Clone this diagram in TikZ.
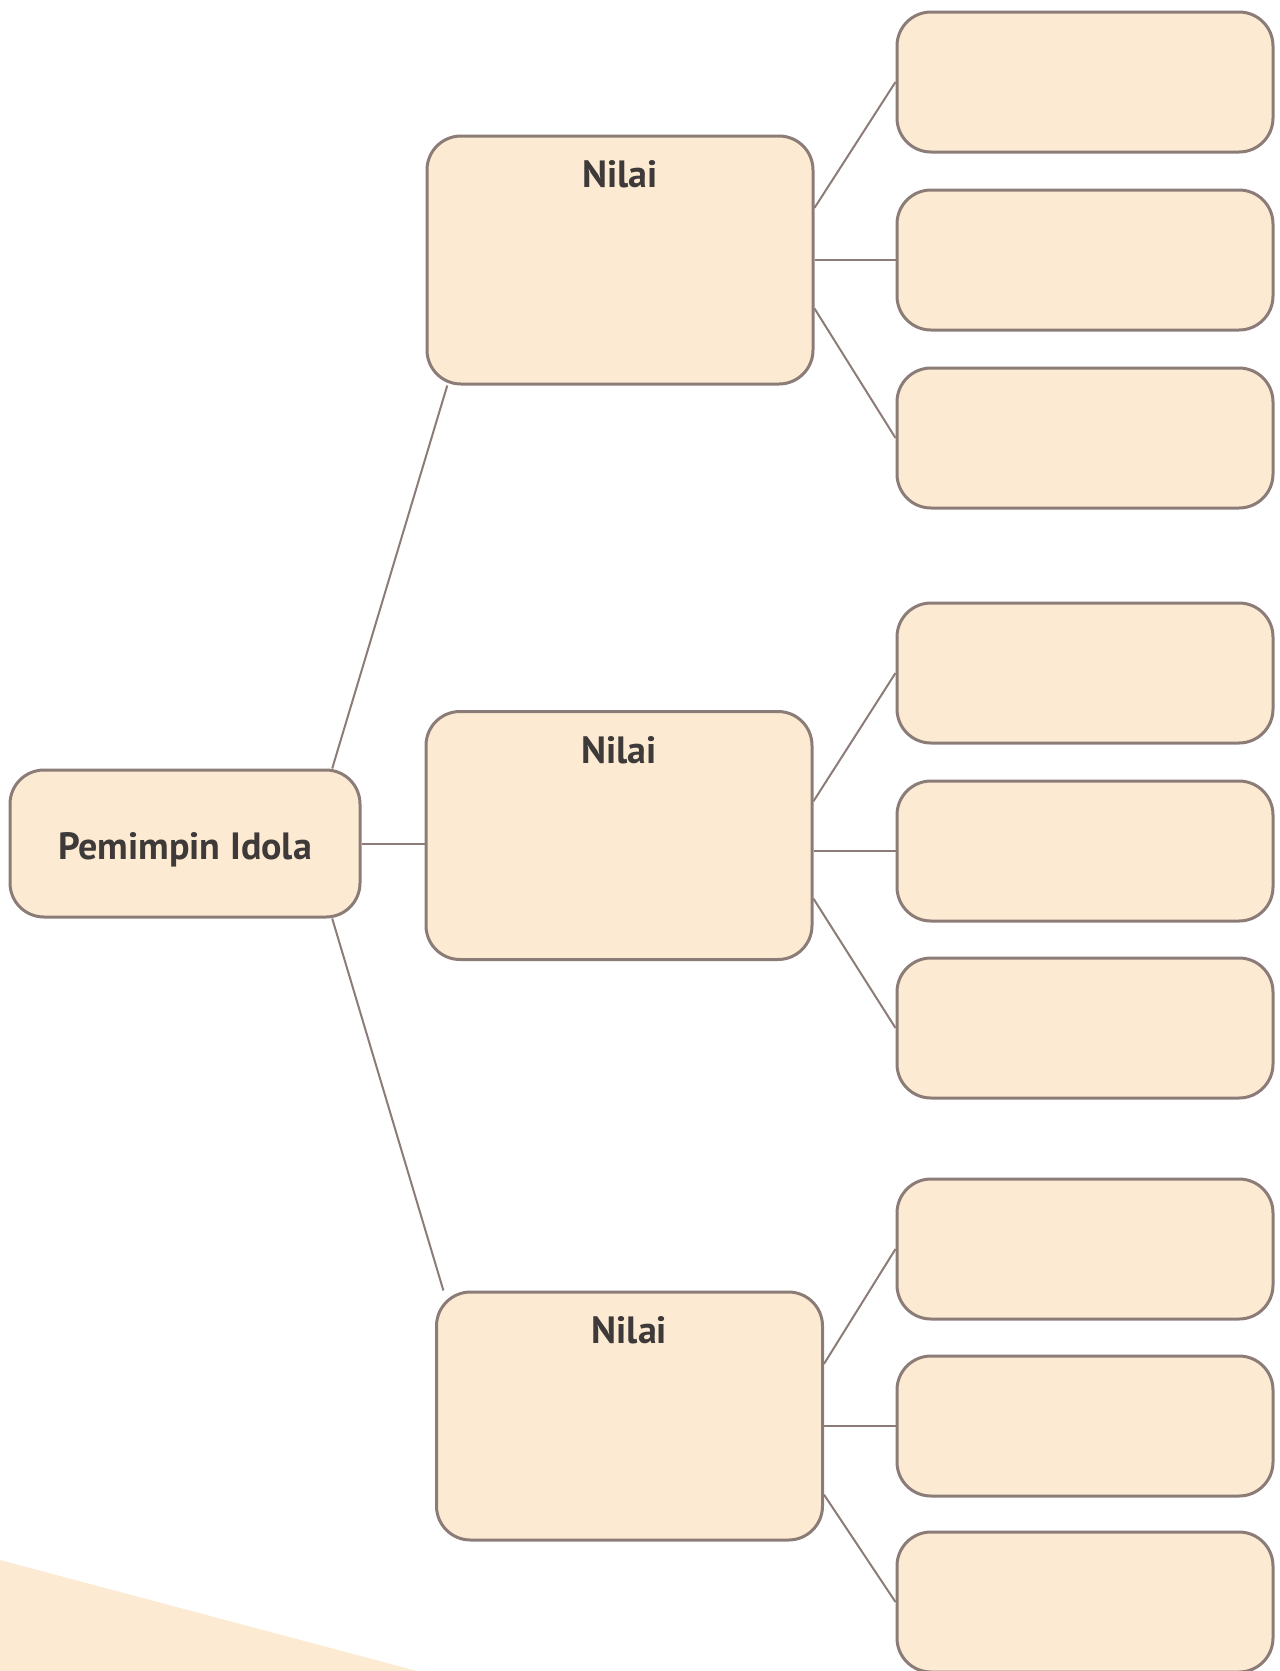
\documentclass[tikz,border=0pt]{standalone}
\usepackage{fontspec}
\setmainfont{PT Sans}
\definecolor{peach}{HTML}{FCEAD2}
\definecolor{edge}{HTML}{8C7C78}
\definecolor{ink}{HTML}{3F3A3A}

\begin{document}
\begin{tikzpicture}[x=0.5pt,y=-0.5pt,font=\bfseries,
  box/.style={draw=edge,fill=peach,line width=1.5pt,rounded corners=17pt,inner sep=0pt},
  bigbox/.style={box,minimum width=193pt,minimum height=124pt},
  smallbox/.style={box,minimum width=188pt,minimum height=70pt},
  link/.style={draw=edge,line width=1pt},
  txt/.style={text=ink,inner sep=0pt,font=\fontsize{19}{22}\selectfont\bfseries}]
\useasboundingbox (0,0) rectangle (1280,1671);
\fill[peach] (0,1560) -- (417,1671) -- (0,1671) -- cycle;

\node[box,minimum width=175pt,minimum height=73.5pt] (root) at (185,843.5){};
\node[txt] (rootlbl) at ([yshift=-3pt]root.center){Pemimpin Idola};

\node[bigbox] (b1) at (620,260){};
\node[bigbox] (b2) at (619,835.5){};
\node[bigbox] (b3) at (629.5,1416){};
\node[txt] (n1) at ([yshift=-20pt]b1.north){Nilai};
\node[txt] (n2) at ([yshift=-20pt]b2.north){Nilai};
\node[txt] (n3) at ([yshift=-20pt]b3.north){Nilai};

\node[smallbox] (r1) at (1085,82){};
\node[smallbox] (r2) at (1085,260){};
\node[smallbox] (r3) at (1085,438){};
\node[smallbox] (r4) at (1085,673){};
\node[smallbox] (r5) at (1085,851){};
\node[smallbox] (r6) at (1085,1028){};
\node[smallbox] (r7) at (1085,1249){};
\node[smallbox] (r8) at (1085,1426){};
\node[smallbox] (r9) at (1085,1602){};

\draw[link] (root.27) -- (b1.-144.2);
\draw[link] (root.east) -- (root.east -| b2.west);
\draw[link] (root.-27) -- (b3.146.3);

\draw[link] (b1.15) -- (r1.west);
\draw[link] (b1.east |- r2.west) -- (r2.west);
\draw[link] (b1.-14) -- (r3.west);

\draw[link] (b2.10.7) -- (r4.west);
\draw[link] (b2.east |- r5.west) -- (r5.west);
\draw[link] (b2.-18.7) -- (r6.west);

\draw[link] (b3.15.6) -- (r7.west);
\draw[link] (b3.east |- r8.west) -- (r8.west);
\draw[link] (b3.-22.8) -- (r9.west);
\end{tikzpicture}
\end{document}
